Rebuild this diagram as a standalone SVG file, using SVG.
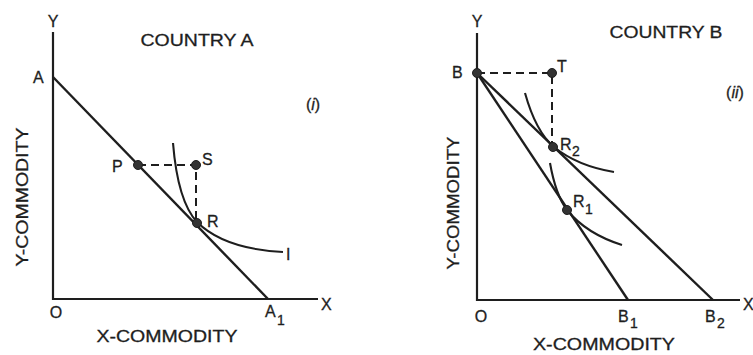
<svg xmlns="http://www.w3.org/2000/svg" width="753" height="355" viewBox="0 0 753 355">
<style>
text{font-family:"Liberation Sans",Arial,sans-serif;fill:#1e1e1e;stroke:#1e1e1e;stroke-width:0.3}
.t{font-size:17px}
.lb{font-size:16px}
.sub{font-size:14px}
.ax{stroke:#1e1e1e;stroke-width:2.2;fill:none}
.ln{stroke:#1e1e1e;stroke-width:2.4;fill:none}
.cv{stroke:#1e1e1e;stroke-width:2.1;fill:none}
.ds{stroke:#1e1e1e;stroke-width:2;fill:none;stroke-dasharray:8,5}
.dot{fill:#333;stroke:#1e1e1e;stroke-width:1}
</style>
<rect width="753" height="355" fill="#fff"/>

<!-- Panel (i) Country A -->
<g id="panelA">
  <g id="axesA">
    <path class="ax" d="M53,32 V299 H318"/>
    <text class="lb" x="53" y="27" text-anchor="middle">Y</text>
    <text class="lb" x="321" y="310">X</text>
    <text class="lb" x="56" y="318" text-anchor="middle">O</text>
    <text class="t" x="167" y="342" text-anchor="middle" textLength="141" lengthAdjust="spacingAndGlyphs">X-COMMODITY</text>
    <text class="t" transform="translate(28,197) rotate(-90)" text-anchor="middle" textLength="139" lengthAdjust="spacingAndGlyphs">Y-COMMODITY</text>
  </g>
  <text class="t" x="197" y="46" text-anchor="middle" textLength="113" lengthAdjust="spacingAndGlyphs">COUNTRY A</text>
  <text class="lb" x="313" y="110" text-anchor="middle">(<tspan font-style="italic">i</tspan>)</text>
  <g id="connectorsA">
    <path id="lineAA1" class="ln" d="M53,77 L268,299"/>
    <path id="curveI" class="cv" d="M173,143 C176,180 184,208 197,222 C215,240 245,250 283,252"/>
    <path class="ds" d="M138,165 H196 V223"/>
  </g>
  <g id="nodeA"><text class="lb" x="33" y="83">A</text></g>
  <g id="nodeA1"><text class="lb" x="265" y="317">A</text><text class="sub" x="277" y="325">1</text></g>
  <g id="nodeP"><circle class="dot" cx="138" cy="165" r="4.5"/><text class="lb" x="112" y="172">P</text></g>
  <g id="nodeS"><circle class="dot" cx="196" cy="165" r="4.5"/><text class="lb" x="202" y="165">S</text></g>
  <g id="nodeR"><circle class="dot" cx="197" cy="223" r="4.5"/><text class="lb" x="207" y="227">R</text></g>
  <g id="nodeI"><text class="lb" x="286" y="260">I</text></g>
</g>

<!-- Panel (ii) Country B -->
<g id="panelB">
  <g id="axesB">
    <path class="ax" d="M477,33 V300 H740"/>
    <text class="lb" x="477" y="27" text-anchor="middle">Y</text>
    <text class="lb" x="743" y="310">X</text>
    <text class="lb" x="481" y="322" text-anchor="middle">O</text>
    <text class="t" x="604" y="350" text-anchor="middle" textLength="142" lengthAdjust="spacingAndGlyphs">X-COMMODITY</text>
    <text class="t" transform="translate(459,203) rotate(-90)" text-anchor="middle" textLength="133" lengthAdjust="spacingAndGlyphs">Y-COMMODITY</text>
  </g>
  <text class="t" x="666" y="38" text-anchor="middle" textLength="113" lengthAdjust="spacingAndGlyphs">COUNTRY B</text>
  <text class="lb" x="735" y="98" text-anchor="middle">(<tspan font-style="italic">ii</tspan>)</text>
  <g id="connectorsB">
    <path id="lineBB1" class="ln" d="M477,73 L628,300"/>
    <path id="lineBB2" class="ln" d="M477,73 L713,300"/>
    <path id="curveR2" class="cv" d="M525,93 C532,118 542,137 554,147 C570,160 590,168 614,172"/>
    <path id="curveR1" class="cv" d="M550,163 C553,180 558,198 567,210 C580,226 600,238 622,245"/>
    <path class="ds" d="M477,73 H552 V147"/>
  </g>
  <g id="nodeB"><circle class="dot" cx="477" cy="73" r="4.5"/><text class="lb" x="452" y="78">B</text></g>
  <g id="nodeT"><circle class="dot" cx="552" cy="73" r="4.5"/><text class="lb" x="557" y="72">T</text></g>
  <g id="nodeR2"><circle class="dot" cx="553" cy="147" r="4.5"/><text class="lb" x="560" y="150">R</text><text class="sub" x="572" y="156">2</text></g>
  <g id="nodeR1"><circle class="dot" cx="567" cy="210" r="4.5"/><text class="lb" x="573" y="207">R</text><text class="sub" x="585" y="214">1</text></g>
  <g id="nodeB1"><text class="lb" x="618" y="322">B</text><text class="sub" x="630" y="328">1</text></g>
  <g id="nodeB2"><text class="lb" x="705" y="322">B</text><text class="sub" x="717" y="328">2</text></g>
</g>
</svg>
